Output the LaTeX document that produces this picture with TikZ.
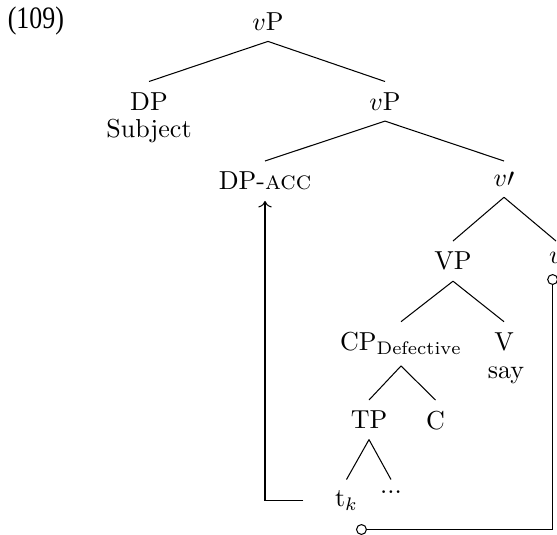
\documentclass[tikz,border=0pt]{standalone}
\usepackage{fontspec}
\newfontfamily\exfont{Liberation Serif}
\usetikzlibrary{arrows.meta}
\begin{document}
\begin{tikzpicture}[x=0.3846pt,y=-0.3846pt,
  tn/.style={anchor=north, inner xsep=2pt, inner ysep=4pt},
  branch/.style={line width=0.4pt},
  move/.style={->, line width=0.4pt},
  agree/.style={{Circle[open,length=4.2pt]}-{Circle[open,length=4.2pt]}, line width=0.4pt}]
\useasboundingbox (0,0) rectangle (557,534);

% example number
\node[anchor=base west, inner sep=0pt] (exno) at (7.3,28.3)
  {\scalebox{0.83}[1]{\exfont\fontsize{12}{14}\selectfont (109)}};

% tree nodes
\node[tn] (vp1)   at (268,1.8)   {$v$P};
\node[tn] (dp)    at (149,81.5)  {DP};
\node[anchor=base, inner sep=0pt] (subj) at (149,137.5) {Subject};
\node[tn] (vp2)   at (385,81.5)  {$v$P};
\node[tn] (dpacc) at (265,161)   {DP-\textsc{acc}};
\node[tn] (vbar)  at (504,161)   {$v\prime$};
\node[tn] (vpn)   at (453,241)   {VP};
\node[tn] (vsm)   at (556,241)   {$v$};
\node[tn] (cp)    at (401,321.7) {CP$_{\mathrm{Defective}}$};
\node[tn] (vv)    at (504,321.7) {V};
\node[anchor=base, inner sep=0pt] (say) at (506,378) {say};
\node[tn] (tp)    at (369,400)   {TP};
\node[tn] (cc)    at (435.5,400) {C};
\node[tn] (tk)    at (346.5,479.5) {t$_k$};
\node[tn] (dots)  at (391,479.5) {...};

% branches
\draw[branch] (vp1.south) -- (dp.north);
\draw[branch] (vp1.south) -- (vp2.north);
\draw[branch] (vp2.south) -- (dpacc.north);
\draw[branch] (vp2.south) -- (vbar.north);
\draw[branch] (vbar.south) -- (vpn.north);
\draw[branch] (vbar.south) -- (vsm.north);
\draw[branch] (vpn.south) -- (cp.north);
\draw[branch] (vpn.south) -- (vv.north);
\draw[branch] (cp.south) -- (tp.north);
\draw[branch] (cp.south) -- (cc.north);
\draw[branch] (tp.south) -- (tk.north);
\draw[branch] (tp.south) -- (dots.north);

% movement of the trace to DP-acc
\draw[move] ([xshift=-10pt]tk.west) -| (dpacc.south);

% agreement link between v and the embedded trace
\coordinate (tkfoot) at (356,529.5);
\draw[agree] ([xshift=-1.3pt]vsm.south) |- (tkfoot);
\end{tikzpicture}
\end{document}
